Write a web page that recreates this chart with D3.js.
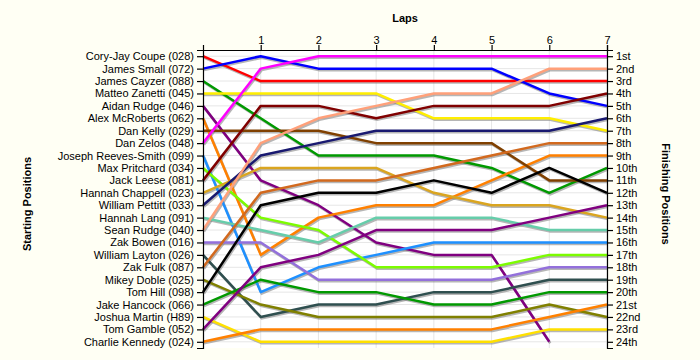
<svg id="svg" width="700" height="360"></svg>
<script src="https://cdn.jsdelivr.net/npm/d3@7"></script>
<script>
    // drivers in starting order
    var drivers = [
        "Cory-Jay Coupe (028)", "James Small (072)", "James Cayzer (088)", "Matteo Zanetti (045)",
        "Aidan Rudge (046)", "Alex McRoberts (062)", "Dan Kelly (029)", "Dan Zelos (048)",
        "Joseph Reeves-Smith (099)", "Max Pritchard (034)", "Jack Leese (081)", "Hannah Chappell (023)",
        "William Pettitt (033)", "Hannah Lang (091)", "Sean Rudge (040)", "Zak Bowen (016)",
        "William Layton (026)", "Zak Fulk (087)", "Mikey Doble (025)", "Tom Hill (098)",
        "Jake Hancock (066)", "Joshua Martin (H89)", "Tom Gamble (052)", "Charlie Kennedy (024)"
    ];

    var colors = [
        "#ff0000", "#0000ff", "#009900", "#ffee00",
        "#800080", "#ff8000", "#804000", "#ff00ff",
        "#1e90ff", "#7cfc00", "#800000", "#daa520",
        "#191970", "#66cdaa", "#ffa07a", "#9370db",
        "#2f4f4f", "#d2691e", "#808000", "#000000",
        "#009900", "#ffe000", "#800080", "#ff8000"
    ];

    // position after each lap (lap 0 = grid), null = retired
    var positions = [
        [1, 3, 3, 3, 3, 3, 3, 3],
        [2, 1, 2, 2, 2, 2, 4, 5],
        [3, 6, 9, 9, 9, 10, 12, 10],
        [4, 4, 4, 4, 6, 6, 6, 7],
        [5, 11, 13, 16, 17, 17, 24, null],
        [6, 17, 14, 13, 13, 11, 9, 9],
        [7, 7, 7, 8, 8, 8, 11, 11],
        [8, 2, 1, 1, 1, 1, 1, 1],
        [9, 20, 18, 17, 16, 16, 16, 16],
        [10, 14, 15, 18, 18, 18, 17, 17],
        [11, 5, 5, 6, 5, 5, 5, 4],
        [12, 10, 10, 10, 12, 13, 13, 14],
        [13, 9, 8, 7, 7, 7, 7, 6],
        [14, 15, 16, 14, 14, 14, 15, 15],
        [15, 8, 6, 5, 4, 4, 2, 2],
        [16, 16, 19, 19, 19, 19, 18, 18],
        [17, 22, 21, 21, 20, 20, 19, 19],
        [18, 12, 11, 11, 10, 9, 8, 8],
        [19, 21, 22, 22, 22, 22, 21, 22],
        [20, 13, 12, 12, 11, 12, 10, 12],
        [21, 19, 20, 20, 21, 21, 20, 20],
        [22, 24, 24, 24, 24, 24, 23, 23],
        [23, 18, 17, 15, 15, 15, 14, 13],
        [24, 23, 23, 23, 23, 23, 22, 21]
    ];

    var laps = [0, 1, 2, 3, 4, 5, 6, 7];
    var lapTicks = [1, 2, 3, 4, 5, 6, 7];
    var finishLabels = ["1st", "2nd", "3rd", "4th", "5th", "6th", "7th", "8th", "9th", "10th",
        "11th", "12th", "13th", "14th", "15th", "16th", "17th", "18th", "19th", "20th",
        "21st", "22nd", "23rd", "24th"];

    var plotL = 203, plotR = 607, plotT = 50, plotB = 348;
    var font = "'Liberation Sans', Arial, sans-serif";

    var svg = d3.select("#svg").style("font-family", font);

    svg.append("rect").attr("width", 700).attr("height", 360).attr("fill", "#fffff4");
    svg.append("rect").attr("x", plotL).attr("y", plotT)
        .attr("width", plotR - plotL).attr("height", plotB - plotT).attr("fill", "#ffffff");

    var x = d3.scaleLinear().domain([0, 7]).range([plotL, plotR]);
    var posIdx = d3.range(1, 25);
    var y = d3.scalePoint().domain(posIdx).range([plotT, plotB]).padding(0.5);

    // grid
    svg.append("g").selectAll("line").data(posIdx).enter().append("line")
        .attr("x1", plotL).attr("x2", plotR)
        .attr("y1", function (d) { return y(d); }).attr("y2", function (d) { return y(d); })
        .attr("stroke", "#e6e6e6").attr("stroke-width", 1);
    svg.append("g").selectAll("line").data(lapTicks).enter().append("line")
        .attr("y1", plotT).attr("y2", plotB)
        .attr("x1", function (d) { return x(d); }).attr("x2", function (d) { return x(d); })
        .attr("stroke", "#e6e6e6").attr("stroke-width", 1);

    var line = d3.line()
        .defined(function (d) { return d != null; })
        .x(function (d, i) { return x(laps[i]); })
        .y(function (d) { return y(d); });

    // shadows then lines
    svg.append("g").attr("transform", "translate(1,1.5)")
        .selectAll("path").data(positions).enter().append("path")
        .attr("d", line).attr("fill", "none")
        .attr("stroke", "#7a7a7a").attr("stroke-opacity", 0.55).attr("stroke-width", 2.5);

    svg.append("g").selectAll("path").data(positions).enter().append("path")
        .attr("d", line).attr("fill", "none")
        .attr("stroke", function (d, i) { return colors[i]; })
        .attr("stroke-width", 2.5).attr("stroke-linejoin", "round");

    // axes
    var leftAxis = svg.append("g").attr("transform", "translate(" + plotL + ",0)")
        .call(d3.axisLeft(y).tickSize(6).tickFormat(function (d) { return drivers[d - 1]; }));
    var rightAxis = svg.append("g").attr("transform", "translate(" + plotR + ",0)")
        .call(d3.axisRight(y).tickSize(6).tickFormat(function (d) { return finishLabels[d - 1]; }));
    var topAxis = svg.append("g").attr("transform", "translate(0," + plotT + ")")
        .call(d3.axisTop(x).tickValues(lapTicks).tickSize(5).tickFormat(d3.format("d")));

    [leftAxis, rightAxis, topAxis].forEach(function (g) {
        g.attr("font-family", font).attr("font-size", 11);
        g.selectAll("path, line").attr("stroke", "#000").attr("stroke-width", 1.2);
        g.selectAll("text").attr("fill", "#000");
    });
    topAxis.selectAll("text").attr("dy", "0.15em");

    svg.append("text").attr("x", (plotL + plotR) / 2).attr("y", 22)
        .attr("text-anchor", "middle").attr("font-size", 11).attr("font-weight", "bold")
        .text("Laps");
    svg.append("text").attr("transform", "translate(31,204) rotate(-90)")
        .attr("text-anchor", "middle").attr("font-size", 11).attr("font-weight", "bold")
        .text("Starting Positions");
    svg.append("text").attr("transform", "translate(662,194) rotate(90)")
        .attr("text-anchor", "middle").attr("font-size", 11).attr("font-weight", "bold")
        .text("Finishing Positions");
</script>
<style>
    html,
    body {
        margin: 0;
        padding: 0;
    }
</style>
